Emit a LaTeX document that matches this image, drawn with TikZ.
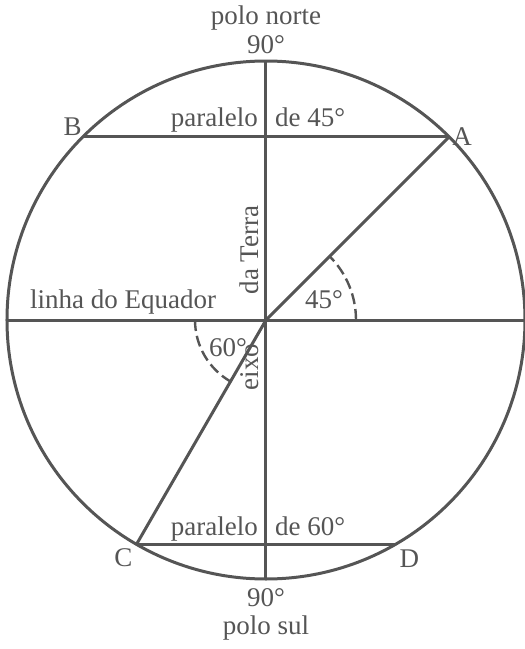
\documentclass[tikz,border=0pt]{standalone}
\usepackage{fontspec}
\setmainfont{Liberation Serif}
\usepackage{tikz}
\usetikzlibrary{positioning}
\definecolor{ink}{RGB}{85,85,85}

\begin{document}
\begin{tikzpicture}[x=1pt,y=1pt,
globe/.style={circle,draw=ink,line width=3pt,minimum size=518pt,inner sep=0pt,outer sep=0pt},
rule/.style={draw=ink,line width=3pt},
angarc/.style={draw=ink,line width=2.4pt,dash pattern=on 11pt off 5pt},
lbl/.style={font=\fontsize{27}{30}\selectfont,text=ink,inner sep=1pt}]
\useasboundingbox (-266,-329) rectangle (259,320);
\node[globe] (earth) at (0,0) {};
\draw[rule] (earth.north) -- (earth.south);
\draw[rule] (earth.west) -- (earth.east);
\draw[rule] (earth.135) -- (earth.45);
\draw[rule] (earth.-120) -- (earth.-60);
\draw[rule] (earth.45) -- (earth.center) -- (earth.-120);
\draw[angarc] ([shift={(0:90pt)}]earth.center) arc (0:45:90pt);
\draw[angarc] ([shift={(180:71pt)}]earth.center) arc (180:240:71pt);
\node[lbl] (north) at (0,302) {polo norte};
\node[lbl] (ntop) at (0,275) {90°};
\node[lbl] (south) at (0,-308) {polo sul};
\node[lbl] (sbot) at (0,-278) {90°};
\node[lbl,anchor=west,xshift=2pt] (A) at (earth.45) {A};
\node[lbl,anchor=south east] (B) at (earth.135) {B};
\node[lbl,anchor=north east,xshift=-3pt,yshift=-3pt] (C) at (earth.-120) {C};
\node[lbl,anchor=north west,xshift=3pt,yshift=-4pt] (D) at (earth.-60) {D};
\node[lbl,anchor=base east] (par45) at (-7,194) {paralelo};
\node[lbl,anchor=base west] (deg45) at (8,194) {de 45°};
\node[lbl,anchor=base east] (par60) at (-7,-215) {paralelo};
\node[lbl,anchor=base west] (deg60) at (8,-215) {de 60°};
\node[lbl,anchor=base] (equator) at (-143,12) {linha do Equador};
\node[lbl,anchor=base] (ang45) at (58,12) {45°};
\node[lbl,anchor=base] (ang60) at (-38,-36) {60°};
\node[lbl,anchor=base,rotate=90] (terra) at (-7,70) {da Terra};
\node[lbl,anchor=base,rotate=90] (eixo) at (-7,-47) {eixo};
\end{tikzpicture}
\end{document}
